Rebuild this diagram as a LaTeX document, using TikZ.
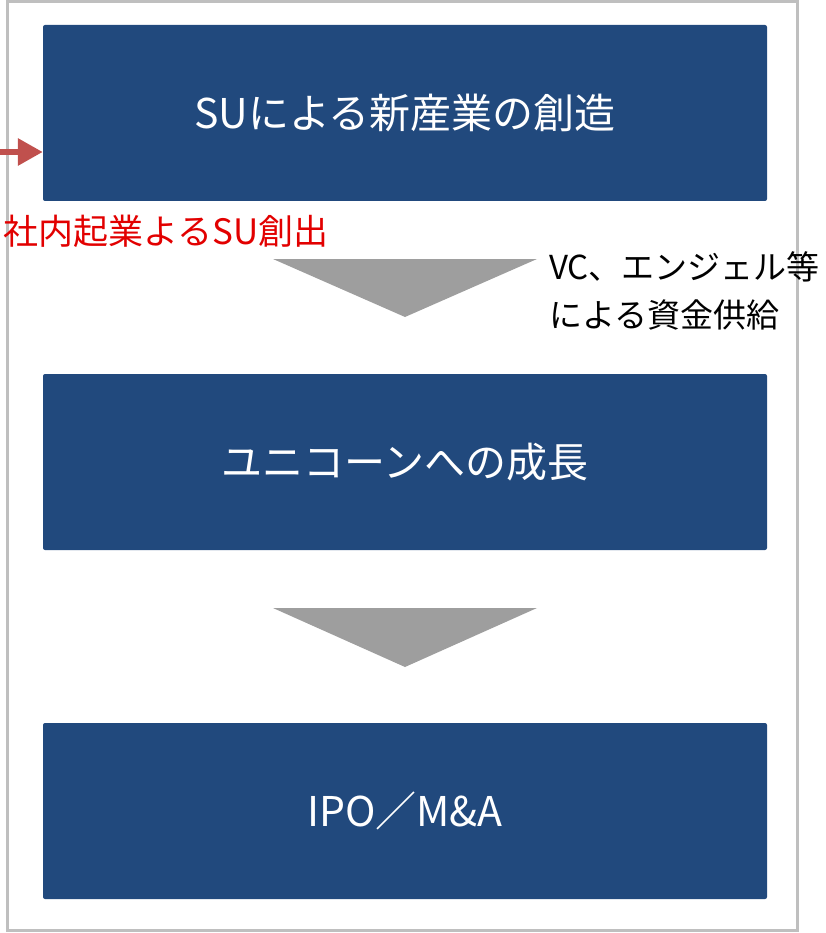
\documentclass[tikz,border=0pt]{standalone}
\usepackage{fontspec}
\setmainfont{Noto Sans CJK JP}
\usetikzlibrary{arrows.meta}
\definecolor{boxblue}{RGB}{33,73,125}
\definecolor{arrowred}{RGB}{192,80,77}
\definecolor{txtred}{RGB}{226,0,0}
\definecolor{trigray}{RGB}{158,158,158}
\definecolor{framegray}{RGB}{191,191,191}
\begin{document}
\begin{tikzpicture}[x=1pt,y=-1pt,
    stage/.style={fill=boxblue,rounded corners=2pt,minimum width=724pt,minimum height=176pt,inner sep=0pt,text=white,font=\fontsize{41}{48}\selectfont},
    funnel/.style={fill=trigray}]
    \useasboundingbox (0,0) rectangle (825,933);
    \draw[framegray,line width=3pt] (7,1.5) rectangle (797,930);
    \node[stage] (su) at (405,113) {SUによる新産業の創造};
    \node[stage] (unicorn) at (405,462) {ユニコーンへの成長};
    \node[stage] (exit) at (405,811) {IPO／M\&A};
    % funnels between stages
    \fill[funnel] (273,259) -- (537,259) -- (405,317) -- cycle;
    \fill[funnel] (273,608) -- (537,608) -- (405,667) -- cycle;
    \coordinate (src) at (0,152);
    \draw[arrowred,line width=6pt,-{Triangle[length=25pt,width=26pt]}] (src) -- (src -| su.west);
    \node[anchor=west,inner sep=0pt,text=txtred,font=\fontsize{35}{40}\selectfont] (intra) at (3,231) {社内起業よるSU創出};
    \node[anchor=north west,inner sep=0pt,align=left,font=\fontsize{33}{48}\selectfont] (vc) at (549,251) {VC、エンジェル等\\による資金供給};
\end{tikzpicture}
\end{document}
